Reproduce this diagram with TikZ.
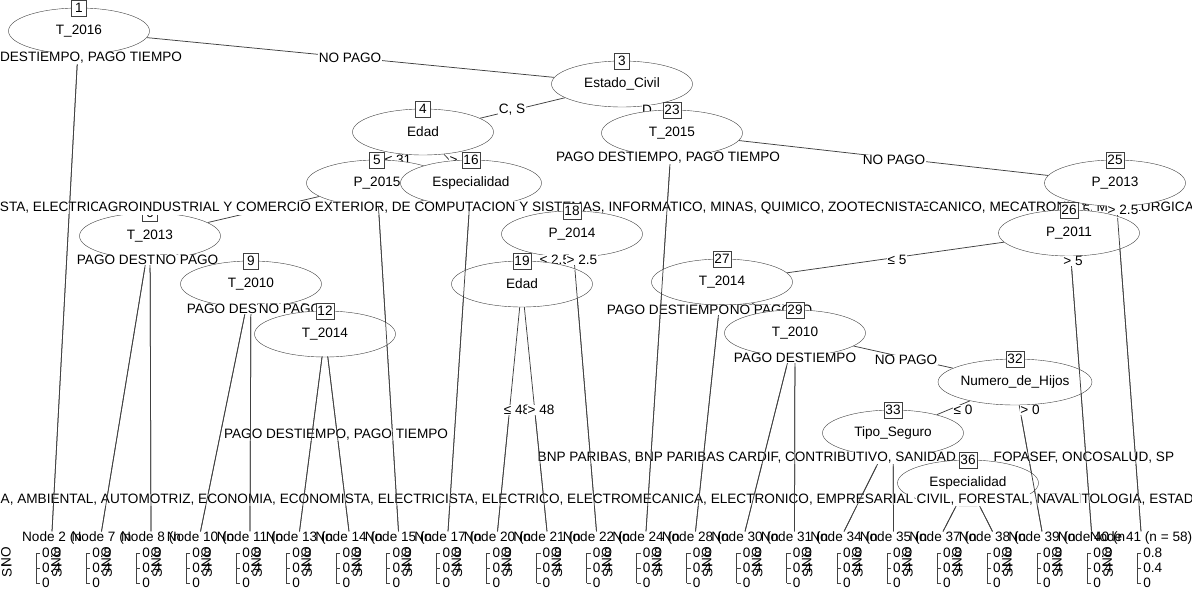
\documentclass[tikz,border=0pt]{standalone}
\usepackage{fontspec}
\setmainfont{Liberation Sans}
\usetikzlibrary{shapes.geometric, calc, backgrounds}

\begin{document}
\begin{tikzpicture}[x=1pt, y=-1pt,
    font=\fontsize{13.6}{15}\selectfont,
    inner/.style={draw=black!75, fill=white, ellipse, minimum width=141pt, minimum height=46pt, inner sep=0pt},
    idbox/.style={draw=black!75, fill=white, inner sep=1.2pt, minimum width=15pt, minimum height=16pt},
    split/.style={fill=white, inner sep=0.5pt},
    leafhead/.style={inner sep=0pt},
    branch/.style={black!75, line width=0.75pt}]
    \useasboundingbox (0,0) rectangle (1192,591);

    % Root and Estado_Civil
    \node[inner] (n1) at (79,31) {T\_2016};
    \node[idbox] (b1) at (n1.north) {1};
    \node[split] (s2) at (70,58) {PAGO DESTIEMPO, PAGO TIEMPO};
    \node[split] (s3) at (350,58) {NO PAGO};
    \node[inner] (n3) at (622,84) {Estado\_Civil};
    \node[idbox] (b3) at (n3.north) {3};
    \node[split] (s4) at (512,110) {C, S};
    \node[split] (s23) at (647,110) {D};

    % Edad branch
    \node[inner] (n4) at (423,132) {Edad};
    \node[idbox] (b4) at (n4.north) {4};
    \node[split] (s5) at (398,160) {≤ 31};
    \node[split] (s16) at (463,160) {> 31};
    \node[inner] (n5) at (377,183) {P\_2015};
    \node[idbox] (b5) at (n5.north) {5};
    \node[inner] (n6) at (150,236) {T\_2013};
    \node[idbox] (b6) at (n6.north) {6};
    \node[split] (s7) at (138,260) {PAGO DESTIEMPO};
    \node[split] (s8) at (187,260) {NO PAGO};
    \node[inner] (n9) at (251,284) {T\_2010};
    \node[idbox] (b9) at (n9.north) {9};
    \node[split] (s10) at (248,309) {PAGO DESTIEMPO};
    \node[split] (s11) at (290,309) {NO PAGO};
    \node[inner] (n12) at (325,334) {T\_2014};
    \node[idbox] (b12) at (n12.north) {12};
    \node[split] (s13) at (336,435) {PAGO DESTIEMPO, PAGO TIEMPO};

    % Especialidad branch
    \node[inner] (n16) at (471,183) {Especialidad};
    \node[idbox] (b16) at (n16.north) {16};
    \node[split, anchor=east] (s17a) at (110,208) {ELECTRICISTA, ELECTRICA};
    \node[split, anchor=west] (s17b) at (908,208) {MECANICO, MECATRONICA, METALURGICA};
    \node[split, anchor=west] (s18) at (98,208) {AGROINDUSTRIAL Y COMERCIO EXTERIOR, DE COMPUTACION Y SISTEMAS, INFORMATICO, MINAS, QUIMICO, ZOOTECNISTA};
    \node[inner] (n18) at (572,234) {P\_2014};
    \node[idbox] (b18) at (n18.north) {18};
    \node[split] (s19) at (555,260) {≤ 2.5};
    \node[split] (s22) at (582,260) {> 2.5};
    \node[inner] (n19) at (522,284) {Edad};
    \node[idbox] (b19) at (n19.north) {19};
    \node[split] (s20) at (517,410) {≤ 48};
    \node[split] (s21) at (541,410) {> 48};

    % T_2015 branch
    \node[inner] (n23) at (672,133) {T\_2015};
    \node[idbox] (b23) at (n23.north) {23};
    \node[split] (s24) at (668,158) {PAGO DESTIEMPO, PAGO TIEMPO};
    \node[split] (s25) at (894,160) {NO PAGO};
    \node[inner] (n25) at (1115,183) {P\_2013};
    \node[idbox] (b25) at (n25.north) {25};
    \node[split] (s26) at (1075,210) {≤ 2.5};
    \node[split] (s41) at (1123,210) {> 2.5};
    \node[inner] (n26) at (1069,233) {P\_2011};
    \node[idbox] (b26) at (n26.north) {26};
    \node[split] (s27) at (897,260) {≤ 5};
    \node[split] (s40) at (1073,261) {> 5};
    \node[inner] (n27) at (722,282) {T\_2014};
    \node[idbox] (b27) at (n27.north) {27};
    \node[split] (s29b) at (765,310) {PAGO TIEMPO};
    \node[split] (s28) at (668,310) {PAGO DESTIEMPO};
    \node[split] (s29) at (761,310) {NO PAGO};
    \node[inner] (n29) at (795,333) {T\_2010};
    \node[idbox] (b29) at (n29.north) {29};
    \node[split] (s30) at (795,358) {PAGO DESTIEMPO};
    \node[split] (s32) at (906,360) {NO PAGO};
    \node[inner] (n32) at (1015,382) {Numero\_de\_Hijos};
    \node[idbox] (b32) at (n32.north) {32};
    \node[split] (s33) at (963,410) {≤ 0};
    \node[split] (s39) at (1030,410) {> 0};
    \node[inner] (n33) at (893,433) {Tipo\_Seguro};
    \node[idbox] (b33) at (n33.north) {33};
    \node[split, anchor=west] (s34) at (537,458) {BNP PARIBAS, BNP PARIBAS CARDIF, CONTRIBUTIVO, SANIDAD};
    \node[split, anchor=west] (s36) at (993,458) {FOPASEF, ONCOSALUD, SP};
    \node[inner] (n36) at (968,483) {Especialidad};
    \node[idbox] (b36) at (n36.north) {36};
    \node[split, anchor=west] (s37a) at (0,500) {A, AMBIENTAL, AUTOMOTRIZ, ECONOMIA, ECONOMISTA, ELECTRICISTA, ELECTRICO, ELECTROMECANICA, ELECTRONICO, EMPRESARIAL};
    \node[split, anchor=west] (s37b) at (1040,500) {ODONTOLOGIA, ESTADISTICA};
    \node[split, anchor=west] (s38) at (916,500) {CIVIL, FORESTAL, NAVAL};

    % Terminal nodes
    \node[leafhead] (l2) at (52,538) {Node 2 (n};
    \node[leafhead] (l7) at (101.5,538) {Node 7 (n};
    \node[leafhead] (l8) at (151,538) {Node 8 (n};
    \node[leafhead] (l10) at (200.5,538) {Node 10 (n};
    \node[leafhead] (l11) at (250,538) {Node 11 (n};
    \node[leafhead] (l13) at (299.5,538) {Node 13 (n};
    \node[leafhead] (l14) at (349,538) {Node 14 (n};
    \node[leafhead] (l15) at (398.5,538) {Node 15 (n};
    \node[leafhead] (l17) at (448,538) {Node 17 (n};
    \node[leafhead] (l20) at (497.5,538) {Node 20 (n};
    \node[leafhead] (l21) at (547,538) {Node 21 (n};
    \node[leafhead] (l22) at (596.5,538) {Node 22 (n};
    \node[leafhead] (l24) at (646,538) {Node 24 (n};
    \node[leafhead] (l28) at (695.5,538) {Node 28 (n};
    \node[leafhead] (l30) at (745,538) {Node 30 (n};
    \node[leafhead] (l31) at (794.5,538) {Node 31 (n};
    \node[leafhead] (l34) at (844,538) {Node 34 (n};
    \node[leafhead] (l35) at (893.5,538) {Node 35 (n};
    \node[leafhead] (l37) at (943,538) {Node 37 (n};
    \node[leafhead] (l38) at (992.5,538) {Node 38 (n};
    \node[leafhead] (l39) at (1042,538) {Node 39 (n};
    \node[leafhead] (l40) at (1091.5,538) {Node 40 (n};
    \node[leafhead] (l41) at (1141,538) {Node 41 (n = 58)};

    % bar panels: class labels and proportion axis
    \foreach \i in {0,...,22} {
        \pgfmathsetmacro{\ax}{36+50.05*\i}
        \node[rotate=90, anchor=east, inner sep=0pt] at (\ax-30,547) {NO};
        \node[rotate=90, anchor=east, inner sep=0pt] at (\ax-29,564) {SI};
        \draw[branch, line width=0.6pt] (\ax,553) -- (\ax,583)
            (\ax,553) -- ++(4,0) (\ax,568) -- ++(4,0) (\ax,583) -- ++(4,0);
        \node[anchor=west, inner sep=0pt] at (\ax+6,553) {0.8};
        \node[anchor=west, inner sep=0pt] at (\ax+6,568) {0.4};
        \node[anchor=west, inner sep=0pt] at (\ax+6,583) {0};
    }

    % branches to terminal nodes, drawn over the split labels
    \draw[branch] ($(n1)!0.068!(l2.north)$) -- (l2.north);
    \draw[branch] ($(n6)!0.108!(l7.north)$) -- (l7.north);
    \draw[branch] ($(n6)!0.108!(l8.north)$) -- (l8.north);
    \draw[branch] ($(n9)!0.134!(l10.north)$) -- (l10.north);
    \draw[branch] ($(n9)!0.134!(l11.north)$) -- (l11.north);
    \draw[branch] ($(n12)!0.112!(l13.north)$) -- (l13.north);
    \draw[branch] ($(n12)!0.112!(l14.north)$) -- (l14.north);
    \draw[branch] ($(n5)!0.066!(l15.north)$) -- (l15.north);
    \draw[branch] ($(n16)!0.066!(l17.north)$) -- (l17.north);
    \draw[branch] ($(n19)!0.54!(l20.north)$) -- (l20.north);
    \draw[branch] ($(n19)!0.54!(l21.north)$) -- (l21.north);
    \draw[branch] ($(n18)!0.12!(l22.north)$) -- (l22.north);
    \draw[branch] ($(n23)!0.085!(l24.north)$) -- (l24.north);
    \draw[branch] ($(n27)!0.145!(l28.north)$) -- (l28.north);
    \draw[branch] ($(n29)!0.17!(l30.north)$) -- (l30.north);
    \draw[branch] ($(n29)!0.17!(l31.north)$) -- (l31.north);
    \draw[branch] ($(n33)!0.34!(l34.north)$) -- (l34.north);
    \draw[branch] ($(n33)!0.34!(l35.north)$) -- (l35.north);
    \draw[branch] ($(n36)!0.52!(l37.north)$) -- (l37.north);
    \draw[branch] ($(n36)!0.52!(l38.north)$) -- (l38.north);
    \draw[branch] ($(n32)!0.24!(l39.north)$) -- (l39.north);
    \draw[branch] ($(n26)!0.12!(l40.north)$) -- (l40.north);
    \draw[branch] ($(n25)!0.1!(l41.north)$) -- (l41.north);

    % all branches underneath
    \begin{scope}[on background layer]
        \fill[white] (0,0) rectangle (1192,591);
        \draw[branch] (n1) -- (n3);
        \draw[branch] (n1) -- (l2.north);
        \draw[branch] (n3) -- (n4);
        \draw[branch] (n3) -- (n23);
        \draw[branch] (n4) -- (n5);
        \draw[branch] (n4) -- (n16);
        \draw[branch] (n5) -- (n6);
        \draw[branch] (n5) -- (l15.north);
        \draw[branch] (n6) -- (l7.north);
        \draw[branch] (n6) -- (l8.north);
        \draw[branch] (n6) -- (n9);
        \draw[branch] (n9) -- (l10.north);
        \draw[branch] (n9) -- (l11.north);
        \draw[branch] (n9) -- (n12);
        \draw[branch] (n12) -- (l13.north);
        \draw[branch] (n12) -- (l14.north);
        \draw[branch] (n16) -- (l17.north);
        \draw[branch] (n16) -- (n18);
        \draw[branch] (n18) -- (n19);
        \draw[branch] (n18) -- (l22.north);
        \draw[branch] (n19) -- (l20.north);
        \draw[branch] (n19) -- (l21.north);
        \draw[branch] (n23) -- (l24.north);
        \draw[branch] (n23) -- (n25);
        \draw[branch] (n25) -- (n26);
        \draw[branch] (n25) -- (l41.north);
        \draw[branch] (n26) -- (n27);
        \draw[branch] (n26) -- (l40.north);
        \draw[branch] (n27) -- (l28.north);
        \draw[branch] (n27) -- (n29);
        \draw[branch] (n29) -- (l30.north);
        \draw[branch] (n29) -- (l31.north);
        \draw[branch] (n29) -- (n32);
        \draw[branch] (n32) -- (n33);
        \draw[branch] (n32) -- (l39.north);
        \draw[branch] (n33) -- (l34.north);
        \draw[branch] (n33) -- (l35.north);
        \draw[branch] (n33) -- (n36);
        \draw[branch] (n36) -- (l37.north);
        \draw[branch] (n36) -- (l38.north);
    \end{scope}
\end{tikzpicture}
\end{document}
